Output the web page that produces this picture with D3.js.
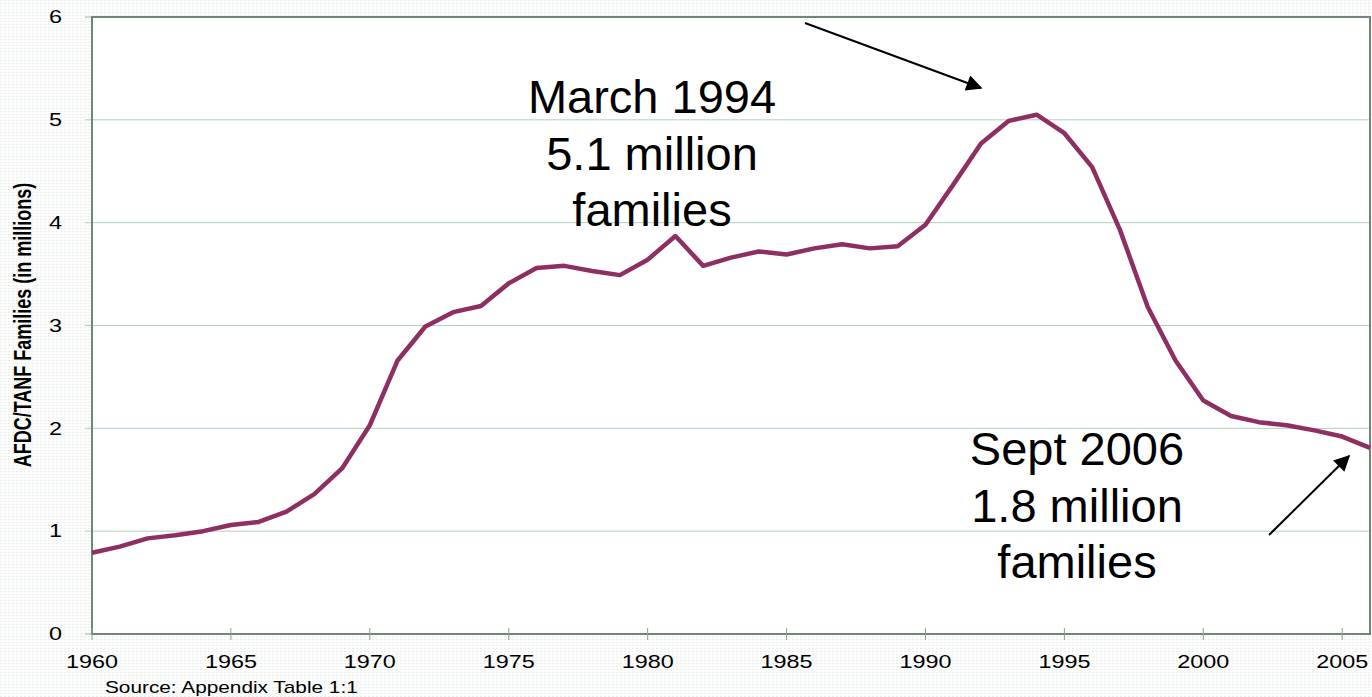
<!DOCTYPE html>
<html>
<head>
<meta charset="utf-8">
<script src="https://cdn.jsdelivr.net/npm/d3@7"></script>
<style>
  body { margin: 0; background: #fff; }
  svg { display: block; font-family: Arial, "Liberation Sans", sans-serif; }
</style>
</head>
<body>
<svg id="chart"></svg>
<script>
// AFDC/TANF caseload, yearly, millions of families
var years = [1960, 1961, 1962, 1963, 1964, 1965, 1966, 1967, 1968, 1969,
             1970, 1971, 1972, 1973, 1974, 1975, 1976, 1977, 1978, 1979,
             1980, 1981, 1982, 1983, 1984, 1985, 1986, 1987, 1988, 1989,
             1990, 1991, 1992, 1993, 1994, 1995, 1996, 1997, 1998, 1999,
             2000, 2001, 2002, 2003, 2004, 2005, 2006];
var families = [0.79, 0.85, 0.93, 0.96, 1.00, 1.06, 1.09, 1.19, 1.36, 1.61,
                2.03, 2.66, 2.99, 3.13, 3.19, 3.41, 3.56, 3.58, 3.53, 3.49,
                3.64, 3.87, 3.58, 3.66, 3.72, 3.69, 3.75, 3.79, 3.75, 3.77,
                3.98, 4.37, 4.77, 4.99, 5.05, 4.87, 4.54, 3.93, 3.18, 2.66,
                2.27, 2.12, 2.06, 2.03, 1.98, 1.92, 1.81];
var xTicks = [1960, 1965, 1970, 1975, 1980, 1985, 1990, 1995, 2000, 2005];
var yTicks = [0, 1, 2, 3, 4, 5, 6];
var peakNote = ["March 1994", "5.1 million", "families"];
var endNote = ["Sept 2006", "1.8 million", "families"];

var width = 1372, height = 697;
var margin = { top: 17, left: 92, bottom: 63, right: 2 };
var stretch = 1.3; // chart text was pasted in horizontally stretched

var svg = d3.select("#chart").attr("width", width).attr("height", height);

// faint dotted slide background
var defs = svg.append("defs");
var pat = defs.append("pattern")
    .attr("id", "dots").attr("width", 4).attr("height", 3)
    .attr("patternUnits", "userSpaceOnUse");
pat.append("rect").attr("width", 4).attr("height", 3).attr("fill", "#fbfcfb");
pat.append("rect").attr("x", 0).attr("y", 0).attr("width", 2).attr("height", 1).attr("fill", "#e8f0ea");
defs.append("marker")
    .attr("id", "arrow").attr("viewBox", "0 0 10 10")
    .attr("refX", 9).attr("refY", 5)
    .attr("markerWidth", 9).attr("markerHeight", 8)
    .attr("markerUnits", "strokeWidth")
    .attr("orient", "auto")
  .append("path").attr("d", "M0,0 L10,5 L0,10 z").attr("fill", "#000");

svg.append("rect").attr("width", width).attr("height", height).attr("fill", "url(#dots)");

var x = d3.scaleLinear().domain([1960, 2006]).range([margin.left, width - margin.right]);
var y = d3.scaleLinear().domain([0, 6]).range([height - margin.bottom, margin.top]);

// plot area
svg.append("rect")
    .attr("x", x(1960)).attr("y", y(6))
    .attr("width", x(2006) - x(1960)).attr("height", y(0) - y(6))
    .attr("fill", "#fff");

// gridlines (extend left as y ticks)
svg.append("g").selectAll("line")
    .data(yTicks.slice(1, -1))
    .enter().append("line")
    .attr("x1", x(1960) - 7).attr("x2", x(2006))
    .attr("y1", function(d) { return y(d); })
    .attr("y2", function(d) { return y(d); })
    .attr("stroke", "#b3d0b8").attr("stroke-width", 1);

svg.append("g").selectAll("line")
    .data([0, 6])
    .enter().append("line")
    .attr("x1", x(1960) - 7).attr("x2", x(1960))
    .attr("y1", function(d) { return y(d); })
    .attr("y2", function(d) { return y(d); })
    .attr("stroke", "#9fb6a4").attr("stroke-width", 1);

// border box
svg.append("rect")
    .attr("x", x(1960)).attr("y", y(6))
    .attr("width", x(2006) - x(1960)).attr("height", y(0) - y(6))
    .attr("fill", "none").attr("stroke", "#6f8676").attr("stroke-width", 2);

// x ticks
svg.append("g").selectAll("line")
    .data(xTicks)
    .enter().append("line")
    .attr("x1", function(d) { return x(d); })
    .attr("x2", function(d) { return x(d); })
    .attr("y1", y(0) - 6).attr("y2", y(0) + 6)
    .attr("stroke", "#8aa090").attr("stroke-width", 1);

svg.append("g").selectAll("text")
    .data(xTicks)
    .enter().append("text")
    .attr("transform", function(d) { return "translate(" + x(d) + ",668) scale(" + stretch + ",1)"; })
    .attr("text-anchor", "middle")
    .style("font-size", "18px")
    .attr("fill", "#000")
    .text(function(d) { return d; });

svg.append("g").selectAll("text")
    .data(yTicks)
    .enter().append("text")
    .attr("transform", function(d) { return "translate(62," + y(d) + ") scale(" + stretch + ",1)"; })
    .attr("dy", "0.35em")
    .attr("text-anchor", "end")
    .style("font-size", "18px")
    .attr("fill", "#000")
    .text(function(d) { return d; });

svg.append("text")
    .attr("transform", "translate(31,325) scale(" + stretch + ",1) rotate(-90)")
    .attr("text-anchor", "middle")
    .style("font-size", "18px")
    .style("font-weight", "bold")
    .text("AFDC/TANF Families (in millions)");

svg.append("text")
    .attr("transform", "translate(105,693) scale(" + stretch + ",1)")
    .style("font-size", "16px")
    .text("Source: Appendix Table 1:1");

// caseload line
var line = d3.line()
    .x(function(d, i) { return x(years[i]); })
    .y(function(d) { return y(d); });

svg.append("path")
    .datum(families)
    .attr("fill", "none")
    .attr("stroke", "#8e2f63")
    .attr("stroke-width", 4.5)
    .attr("stroke-linejoin", "round")
    .attr("d", line);

// annotations
function note(lines, cx, baseY) {
    svg.append("g").selectAll("text")
        .data(lines)
        .enter().append("text")
        .attr("x", cx)
        .attr("y", function(d, i) { return baseY + i * 56.5; })
        .attr("text-anchor", "middle")
        .style("font-size", "47px")
        .attr("fill", "#000")
        .text(function(d) { return d; });
}
note(peakNote, 652, 113);
note(endNote, 1077, 465);

svg.append("line")
    .attr("x1", 805).attr("y1", 23).attr("x2", 981).attr("y2", 88)
    .attr("stroke", "#000").attr("stroke-width", 2)
    .attr("marker-end", "url(#arrow)");
svg.append("line")
    .attr("x1", 1269).attr("y1", 535).attr("x2", 1349).attr("y2", 456)
    .attr("stroke", "#000").attr("stroke-width", 2)
    .attr("marker-end", "url(#arrow)");
</script>
</body>
</html>
